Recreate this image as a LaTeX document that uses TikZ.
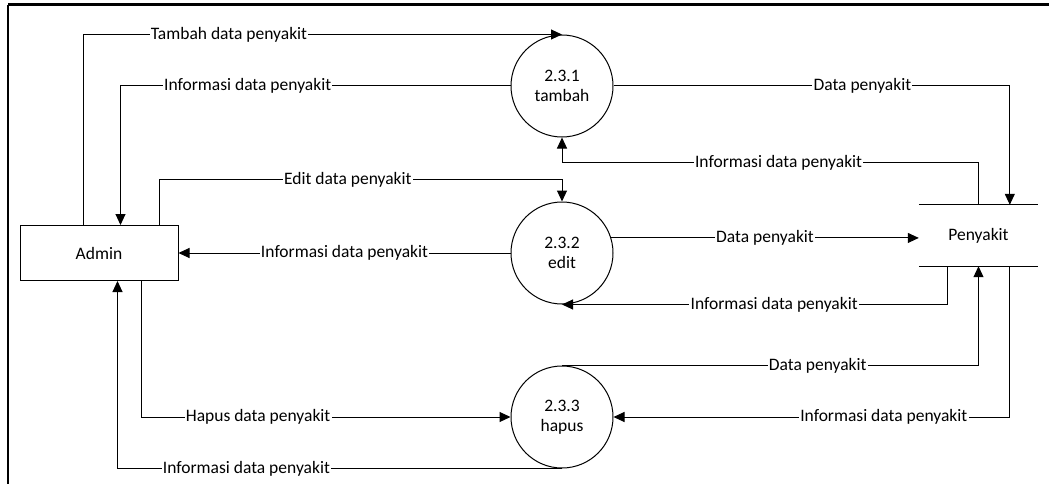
\documentclass[tikz,border=0pt]{standalone}
\usepackage{fontspec}
\setmainfont{Carlito}
\usetikzlibrary{arrows.meta,calc}

\begin{document}
\begin{tikzpicture}[x=1pt,y=-1pt,
  font=\fontsize{17.5}{20.5}\selectfont,
  proc/.style={circle,draw,line width=1pt,minimum size=102pt,inner sep=0pt,align=center},
  entity/.style={rectangle,draw,line width=1pt,minimum width=158pt,minimum height=55pt},
  datastore/.style={rectangle,minimum width=119pt,minimum height=61pt,inner sep=0pt},
  flow/.style={line width=1pt,-{Triangle[length=11pt,width=10pt]}},
  lbl/.style={fill=white,inner sep=1.2pt}
]
\useasboundingbox (0,0) rectangle (1049,484);

% frame
\draw[line width=3pt] (8,5) -- (1049,5);
\draw[line width=2.5pt] (8,5) -- (8,484);

% external entity, processes and data store
\node[entity] (admin) at (99,253) {Admin};
\node[proc] (p1) at (562,86) {2.3.1\\tambah};
\node[proc] (p2) at (562,253) {2.3.2\\edit};
\node[proc] (p3) at (562,417) {2.3.3\\hapus};
\node[datastore] (store) at (978.5,235.5) {Penyakit};
\draw[line width=1pt] (store.north west) -- (store.north east)
                      (store.south west) -- (store.south east);

% 2.3.1 tambah
\draw[flow] ([xshift=64pt]admin.north west) |- node[lbl,pos=0.652] {Tambah data penyakit} (p1.north);
\draw[flow] (p1.west) -| node[lbl,pos=0.337] {Informasi data penyakit} ([xshift=101pt]admin.north west);
\draw[flow] (p1.east) -| node[lbl,pos=0.314] {Data penyakit} ([xshift=91pt]store.north west);
\draw[flow] (store.north) -- ++(0,-42) -| node[lbl,pos=0.24] {Informasi data penyakit} (p1.south);

% 2.3.2 edit
\draw[flow] ([xshift=140pt]admin.north west) -- ++(0,-45.5) -| node[lbl,pos=0.234] {Edit data penyakit} (p2.north);
\draw[flow] (p2.west) -- node[lbl,pos=0.5] {Informasi data penyakit} (admin.east);
\draw[flow] (p2.17) -- node[lbl,pos=0.5] {Data penyakit} (p2.17 -| store.west);
\draw[flow] ([xshift=29pt]store.south west) |- node[lbl,pos=0.725] {Informasi data penyakit} (p2.south);

% 2.3.3 hapus
\draw[flow] ([xshift=122pt]admin.south west) |- node[lbl,pos=0.658] {Hapus data penyakit} (p3.west);
\draw[flow] (p3.south) -| node[lbl,pos=0.355] {Informasi data penyakit} ([xshift=98pt]admin.south west);
\draw[flow] (p3.north) -| node[lbl,pos=0.307] {Data penyakit} (store.south);
\draw[flow] ([xshift=91pt]store.south west) |- node[lbl,pos=0.659] {Informasi data penyakit} (p3.east);
\end{tikzpicture}
\end{document}
